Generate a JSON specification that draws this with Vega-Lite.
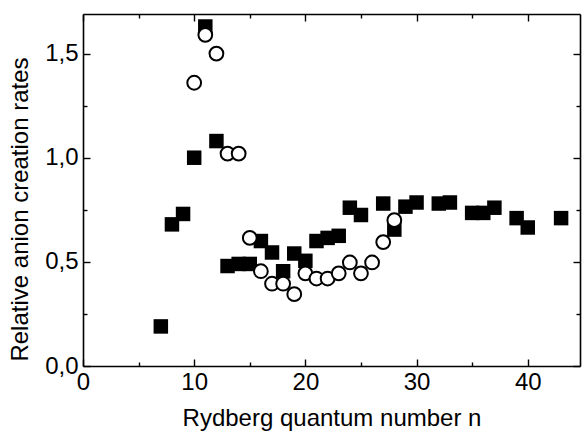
{
  "$schema": "https://vega.github.io/schema/vega-lite/v6.json",
  "width": 497,
  "height": 352,
  "autosize": {"type": "none"},
  "padding": {"left": 83, "top": 14, "right": 2, "bottom": 68},
  "background": "white",
  "config": {
    "view": {"stroke": null},
    "font": "Liberation Sans",
    "axis": {
      "domainColor": "black",
      "domainWidth": 1.6,
      "tickColor": "black",
      "tickWidth": 1.4,
      "grid": false,
      "labelColor": "black",
      "titleColor": "black",
      "labelFont": "Liberation Sans",
      "titleFont": "Liberation Sans",
      "labelFontSize": 24,
      "titleFontSize": 24,
      "titleFontWeight": "normal"
    }
  },
  "data": {
    "values": [
      {"series": "square", "n": 7, "rate": 0.19},
      {"series": "square", "n": 8, "rate": 0.68},
      {"series": "square", "n": 9, "rate": 0.73},
      {"series": "square", "n": 10, "rate": 1.0},
      {"series": "square", "n": 11, "rate": 1.63},
      {"series": "square", "n": 12, "rate": 1.08},
      {"series": "square", "n": 13, "rate": 0.48},
      {"series": "square", "n": 14, "rate": 0.49},
      {"series": "square", "n": 15, "rate": 0.49},
      {"series": "square", "n": 16, "rate": 0.6},
      {"series": "square", "n": 17, "rate": 0.545},
      {"series": "square", "n": 18, "rate": 0.455},
      {"series": "square", "n": 19, "rate": 0.54},
      {"series": "square", "n": 20, "rate": 0.505},
      {"series": "square", "n": 21, "rate": 0.6},
      {"series": "square", "n": 22, "rate": 0.615},
      {"series": "square", "n": 23, "rate": 0.625},
      {"series": "square", "n": 24, "rate": 0.76},
      {"series": "square", "n": 25, "rate": 0.725},
      {"series": "square", "n": 27, "rate": 0.78},
      {"series": "square", "n": 28, "rate": 0.655},
      {"series": "square", "n": 29, "rate": 0.765},
      {"series": "square", "n": 30, "rate": 0.785},
      {"series": "square", "n": 32, "rate": 0.78},
      {"series": "square", "n": 33, "rate": 0.785},
      {"series": "square", "n": 35, "rate": 0.735},
      {"series": "square", "n": 36, "rate": 0.735},
      {"series": "square", "n": 37, "rate": 0.76},
      {"series": "square", "n": 39, "rate": 0.71},
      {"series": "square", "n": 40, "rate": 0.665},
      {"series": "square", "n": 43, "rate": 0.71},
      {"series": "circle", "n": 10, "rate": 1.36},
      {"series": "circle", "n": 11, "rate": 1.59},
      {"series": "circle", "n": 12, "rate": 1.5},
      {"series": "circle", "n": 13, "rate": 1.02},
      {"series": "circle", "n": 14, "rate": 1.02},
      {"series": "circle", "n": 15, "rate": 0.615},
      {"series": "circle", "n": 16, "rate": 0.455},
      {"series": "circle", "n": 17, "rate": 0.395},
      {"series": "circle", "n": 18, "rate": 0.395},
      {"series": "circle", "n": 19, "rate": 0.345},
      {"series": "circle", "n": 20, "rate": 0.445},
      {"series": "circle", "n": 21, "rate": 0.42},
      {"series": "circle", "n": 22, "rate": 0.42},
      {"series": "circle", "n": 23, "rate": 0.445},
      {"series": "circle", "n": 24, "rate": 0.497},
      {"series": "circle", "n": 25, "rate": 0.445},
      {"series": "circle", "n": 26, "rate": 0.497},
      {"series": "circle", "n": 27, "rate": 0.595},
      {"series": "circle", "n": 28, "rate": 0.7}
    ]
  },
  "resolve": {"axis": {"x": "independent", "y": "independent"}},
  "layer": [
    {
      "transform": [{"filter": "datum.series === 'square'"}],
      "mark": {"type": "point", "shape": "square", "filled": true, "color": "black", "opacity": 1, "size": 210},
      "encoding": {
        "x": {
          "field": "n", "type": "quantitative",
          "scale": {"domain": [0, 44.7], "nice": false, "zero": false},
          "axis": {
            "orient": "bottom",
            "title": "Rydberg quantum number n",
            "values": [0, 5, 10, 15, 20, 25, 30, 35, 40],
            "labelExpr": "datum.value % 10 === 0 ? datum.label : ''",
            "tickSize": {"condition": {"test": "datum.value % 10 === 0", "value": -7}, "value": -4},
            "labelPadding": 11,
            "labelFlush": false,
            "titleY": 59,
            "titleBaseline": "alphabetic"
          }
        },
        "y": {
          "field": "rate", "type": "quantitative",
          "scale": {"domain": [0, 1.69], "nice": false, "zero": false},
          "axis": {
            "orient": "left",
            "title": "Relative anion creation rates",
            "values": [0, 0.25, 0.5, 0.75, 1, 1.25, 1.5],
            "labelExpr": "abs(datum.value * 2 - round(datum.value * 2)) < 0.001 ? replace(format(datum.value, '.1f'), '.', ',') : ''",
            "tickSize": {"condition": {"test": "abs(datum.value * 2 - round(datum.value * 2)) < 0.001", "value": -7}, "value": -4},
            "labelPadding": 12,
            "labelFlush": false,
            "titleX": -56,
            "titleY": 195,
            "titleBaseline": "alphabetic"
          }
        }
      }
    },
    {
      "transform": [{"filter": "datum.series === 'circle'"}],
      "mark": {"type": "point", "shape": "circle", "filled": true, "fill": "white", "stroke": "black", "strokeWidth": 2, "opacity": 1, "size": 190},
      "encoding": {
        "x": {
          "field": "n", "type": "quantitative",
          "axis": {
            "orient": "top",
            "title": null,
            "labels": false,
            "values": [0, 5, 10, 15, 20, 25, 30, 35, 40],
            "tickSize": {"condition": {"test": "datum.value % 10 === 0", "value": -7}, "value": -4}
          }
        },
        "y": {
          "field": "rate", "type": "quantitative",
          "axis": {
            "orient": "right",
            "title": null,
            "labels": false,
            "values": [0, 0.25, 0.5, 0.75, 1, 1.25, 1.5],
            "tickSize": {"condition": {"test": "abs(datum.value * 2 - round(datum.value * 2)) < 0.001", "value": -7}, "value": -4}
          }
        }
      }
    }
  ]
}
